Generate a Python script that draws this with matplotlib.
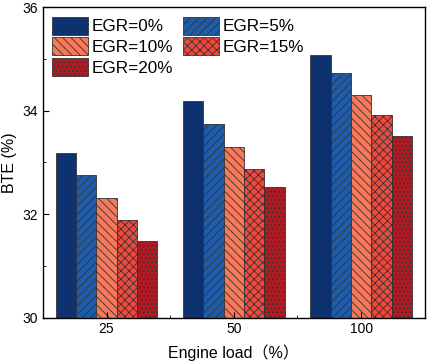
import numpy as np
import matplotlib.pyplot as plt
from matplotlib.ticker import MultipleLocator, FixedLocator

plt.rcParams['font.family'] = ['Liberation Sans', 'Noto Sans CJK SC']
plt.rcParams['hatch.linewidth'] = 0.6
plt.rcParams['hatch.color'] = '#222222'

loads = ['25', '50', '100']
egr_labels = ['EGR=0%', 'EGR=5%', 'EGR=10%', 'EGR=15%', 'EGR=20%']
bte = [
    [33.19, 34.18, 35.08],   # EGR=0%
    [32.75, 33.75, 34.73],   # EGR=5%
    [32.32, 33.29, 34.31],   # EGR=10%
    [31.89, 32.87, 33.91],   # EGR=15%
    [31.49, 32.53, 33.51],   # EGR=20%
]
colors = ['#0e3170', '#1d5cab', '#f7785a', '#f2473d', '#b11a22']
hatches = ['', '////', '\\\\\\\\', 'xxxx', '....']

fig, ax = plt.subplots(figsize=(4.29, 3.63), dpi=100)
fig.subplots_adjust(left=0.1, right=0.99, top=0.98, bottom=0.125)

x = np.arange(len(loads))
w = 0.16
bars = []
for i, vals in enumerate(bte):
    b = ax.bar(x + (i - 2) * w, np.array(vals) - 30, w, bottom=30, color=colors[i],
               hatch=hatches[i], edgecolor='#333333', linewidth=0.6, label=egr_labels[i])
    bars.append(b)

ax.set_xlim(-0.5, 2.5)
ax.set_ylim(30, 36)
ax.set_xticks(x)
ax.set_xticklabels(loads)
ax.xaxis.set_minor_locator(FixedLocator([0.5, 1.5]))
ax.yaxis.set_major_locator(MultipleLocator(2))
ax.yaxis.set_minor_locator(MultipleLocator(1))
ax.tick_params(which='both', direction='in', labelsize=10)
ax.tick_params(which='major', length=4)
ax.tick_params(which='minor', length=2.5)
for s in ax.spines.values():
    s.set_linewidth(1.0)

ax.set_xlabel('Engine load（%）', fontsize=11.5, labelpad=6)
ax.set_ylabel('BTE (%)', fontsize=11.5)

# row-wise legend order: 0,5 / 10,15 / 20
order = [0, 2, 4, 1, 3]
ax.legend([bars[k] for k in order], [egr_labels[k] for k in order],
          ncol=2, loc='upper left', frameon=False, fontsize=12.3,
          handlelength=2.1, handleheight=1.25, labelspacing=0.15,
          columnspacing=0.6, handletextpad=0.2, borderaxespad=0.45, borderpad=0.1)

fig.savefig('out.png', dpi=100)
